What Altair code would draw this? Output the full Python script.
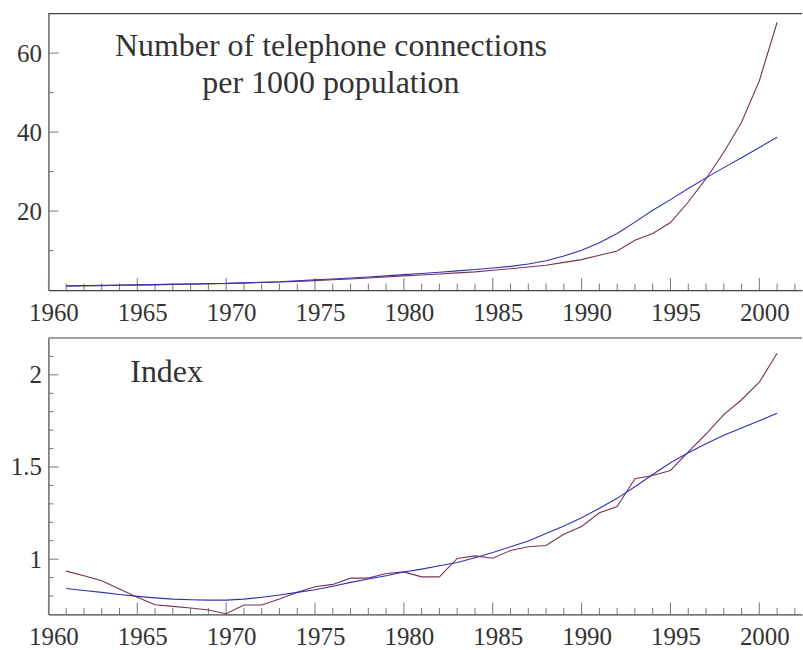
import altair as alt
import pandas as pd

years = list(range(1961, 2002))

phones_actual = [1.0, 1.05, 1.1, 1.2, 1.25, 1.3, 1.4, 1.5, 1.55, 1.65,
                 1.75, 1.9, 2.05, 2.2, 2.4, 2.6, 2.8, 3.05, 3.3, 3.6,
                 3.8, 4.05, 4.35, 4.6, 5.0, 5.4, 5.85, 6.3, 7.0, 7.7,
                 8.8, 9.9, 12.6, 14.3, 17.1, 22.3, 28.2, 34.9, 42.5, 53.0,
                 67.8]
phones_fit = [1.1, 1.15, 1.2, 1.3, 1.35, 1.4, 1.5, 1.55, 1.65, 1.7,
              1.85, 1.95, 2.1, 2.35, 2.6, 2.8, 3.05, 3.3, 3.6, 3.9,
              4.2, 4.5, 4.85, 5.2, 5.6, 6.0, 6.6, 7.4, 8.6, 10.1,
              12.0, 14.3, 17.2, 20.2, 22.9, 25.7, 28.4, 31.0, 33.5, 36.1,
              38.7]
index_actual = [0.935, 0.91, 0.883, 0.838, 0.793, 0.753, 0.744, 0.735, 0.724, 0.704,
                0.751, 0.751, 0.784, 0.82, 0.85, 0.863, 0.897, 0.897, 0.922, 0.931,
                0.904, 0.904, 1.004, 1.018, 1.005, 1.047, 1.067, 1.074, 1.135, 1.177,
                1.252, 1.285, 1.436, 1.454, 1.481, 1.582, 1.679, 1.784, 1.865, 1.96,
                2.117]
index_fit = [0.841, 0.83, 0.82, 0.808, 0.798, 0.79, 0.783, 0.78, 0.778, 0.778,
             0.783, 0.793, 0.806, 0.82, 0.834, 0.853, 0.874, 0.892, 0.91, 0.93,
             0.946, 0.964, 0.982, 1.008, 1.036, 1.067, 1.099, 1.139, 1.18, 1.225,
             1.276, 1.33, 1.393, 1.459, 1.523, 1.577, 1.626, 1.672, 1.712, 1.751,
             1.791]

x_major = [1960, 1965, 1970, 1975, 1980, 1985, 1990, 1995, 2000]
x_minor = [y for y in range(1961, 2003) if y % 5 != 0]
top_y_major = [20, 40, 60]
top_y_minor = [10, 30, 50]
bot_y_major = [1.0, 1.5, 2.0]
bot_y_minor = [0.8, 0.9, 1.1, 1.2, 1.3, 1.4, 1.6, 1.7, 1.8, 1.9, 2.1]

top_title = ["Number of telephone connections", "per 1000 population"]
bot_title = "Index"

W, H = 755, 277
FONT = "Liberation Serif, Times New Roman, DejaVu Serif, serif"
TXT = "#333333"
AXC = "#444444"
TICKC = "#777777"
MAROON = "#76345a"
BLUE = "#3030b8"
xdom = [1960, 2002.4]


def panel(actual, fit, ydom, ymaj, ymin, yfmt, texts):
    df = pd.DataFrame({"year": years, "actual": actual, "fit": fit})
    xs = alt.Scale(domain=xdom, nice=False, zero=False)
    ys = alt.Scale(domain=ydom, nice=False, zero=False)
    xaxis = alt.Axis(values=x_major, format="d", ticks=False, tickSize=0, grid=False,
                     labelFont=FONT, labelFontSize=25, labelColor=TXT,
                     labelPadding=10, labelOffset=5, labelFlush=False, labelOverlap=False,
                     domainColor=AXC, domainWidth=1.2, title=None)
    yaxis = alt.Axis(values=ymaj, format=yfmt, ticks=False, tickSize=0, grid=False,
                     labelFont=FONT, labelFontSize=25, labelColor=TXT,
                     labelPadding=7, labelOverlap=False,
                     domainColor=AXC, domainWidth=1.2, title=None)
    base = alt.Chart(df)
    l_act = base.mark_line(color=MAROON, strokeWidth=1.1).encode(
        x=alt.X("year:Q", scale=xs, axis=xaxis),
        y=alt.Y("actual:Q", scale=ys, axis=yaxis))
    l_fit = base.mark_line(color=BLUE, strokeWidth=1.1).encode(
        x=alt.X("year:Q"), y=alt.Y("fit:Q"))

    xmaj = alt.Chart(pd.DataFrame({"t": x_major})).mark_rule(color=TICKC, strokeWidth=1).encode(
        x="t:Q", y=alt.value(H), y2=alt.value(H - 12))
    xmin = alt.Chart(pd.DataFrame({"t": x_minor})).mark_rule(color=TICKC, strokeWidth=1).encode(
        x="t:Q", y=alt.value(H), y2=alt.value(H - 6.5))
    ymj = alt.Chart(pd.DataFrame({"v": ymaj})).mark_rule(color=TICKC, strokeWidth=1).encode(
        y="v:Q", x=alt.value(0), x2=alt.value(10))
    ymn = alt.Chart(pd.DataFrame({"v": ymin})).mark_rule(color=TICKC, strokeWidth=1).encode(
        y="v:Q", x=alt.value(0), x2=alt.value(5))
    topline = alt.Chart(pd.DataFrame({"a": [0]})).mark_rule(color=AXC, strokeWidth=1.2).encode(
        x=alt.value(0), x2=alt.value(W), y=alt.value(0))
    layers = [xmaj, xmin, ymj, ymn, topline, l_act, l_fit] + texts
    return alt.layer(*layers).properties(width=W, height=H)


t1 = alt.Chart(pd.DataFrame({"s": [top_title[0]]})).mark_text(
    font=FONT, fontSize=32, color=TXT, align="center", baseline="alphabetic").encode(
    text="s:N", x=alt.value(283), y=alt.value(42))
t2 = alt.Chart(pd.DataFrame({"s": [top_title[1]]})).mark_text(
    font=FONT, fontSize=32, color=TXT, align="center", baseline="alphabetic").encode(
    text="s:N", x=alt.value(283), y=alt.value(80))
t3 = alt.Chart(pd.DataFrame({"s": [bot_title]})).mark_text(
    font=FONT, fontSize=32, color=TXT, align="left", baseline="alphabetic").encode(
    text="s:N", x=alt.value(82), y=alt.value(44))

top = panel(phones_actual, phones_fit, [0, 70], top_y_major, top_y_minor, "d", [t1, t2])
bot = panel(index_actual, index_fit, [0.7, 2.2], bot_y_major, bot_y_minor, ".2~f", [t3])

chart = alt.vconcat(top, bot, spacing=48, bounds="flush").properties(
    padding={"left": 9.5, "top": 12, "right": 0, "bottom": 0}
).configure_view(stroke=None)

chart.save("out.html", embed_options={"renderer": "svg", "actions": False})
